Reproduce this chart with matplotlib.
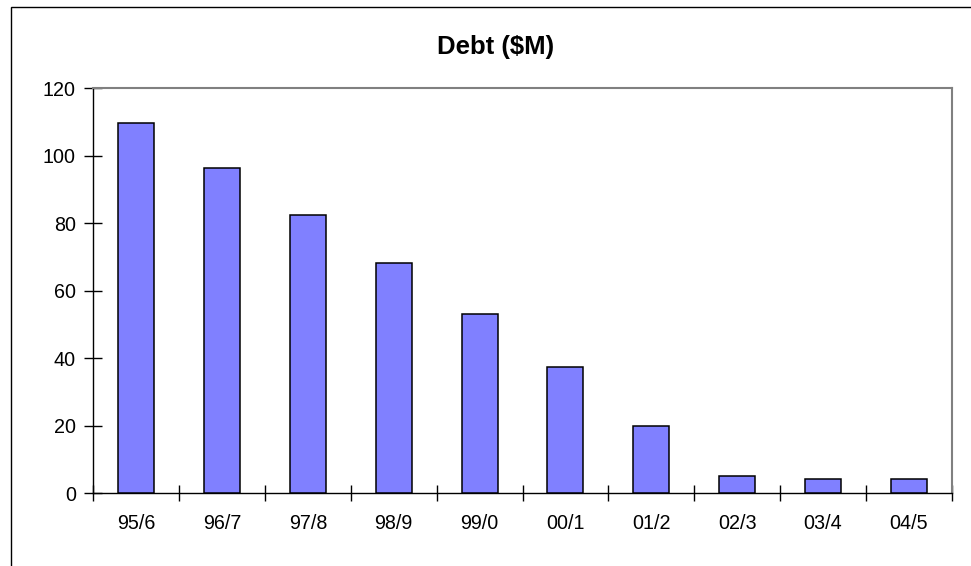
import matplotlib.pyplot as plt
from matplotlib.patches import Rectangle

years = ['95/6', '96/7', '97/8', '98/9', '99/0', '00/1', '01/2', '02/3', '03/4', '04/5']
debt = [109.6, 96.4, 82.5, 68.2, 53.2, 37.5, 19.9, 5.2, 4.3, 4.3]
y_ticks = [0, 20, 40, 60, 80, 100, 120]

plt.rcParams['font.family'] = ['Liberation Sans', 'DejaVu Sans']

fig = plt.figure(figsize=(9.71, 5.66), dpi=100)
fig.patch.set_facecolor('white')

# chart area border (runs off the right and bottom edges)
fig.patches.append(Rectangle((11 / 971, -0.2), 1.2, 1 - 7 / 566 + 0.2,
                             transform=fig.transFigure, fill=False,
                             edgecolor='black', linewidth=1.0))

ax = fig.add_axes([93.3 / 971, 1 - 493.3 / 566, (951.7 - 93.3) / 971, (493.3 - 88.3) / 566])

x = range(len(years))
ax.bar(x, debt, width=0.42, color='#8080FF', edgecolor='black', linewidth=1.1, zorder=3)

ax.set_xlim(-0.5, len(years) - 0.5)
ax.set_ylim(0, 120)

# category ticks sit between the bars
ax.set_xticks([i - 0.5 for i in range(len(years) + 1)])
ax.set_xticklabels([])
ax.set_xticks(list(x), minor=True)
ax.set_xticklabels(years, minor=True)
ax.tick_params(axis='x', which='major', direction='inout', length=12, width=1.0, color='black')
ax.tick_params(axis='x', which='minor', length=0, pad=15, labelsize=14.2)

ax.set_yticks(y_ticks)
ax.tick_params(axis='y', direction='inout', length=13, width=1.0, color='black',
               pad=6, labelsize=14.2)

for side in ['top', 'right']:
    ax.spines[side].set_color('#808080')
    ax.spines[side].set_linewidth(1.5)
for side in ['left', 'bottom']:
    ax.spines[side].set_color('black')
    ax.spines[side].set_linewidth(1.0)

fig.text(495.5 / 971, 1 - 46.7 / 566, 'Debt ($M)', ha='center', va='center',
         fontsize=18.5, fontweight='bold')

fig.savefig('out.png', dpi=100)
